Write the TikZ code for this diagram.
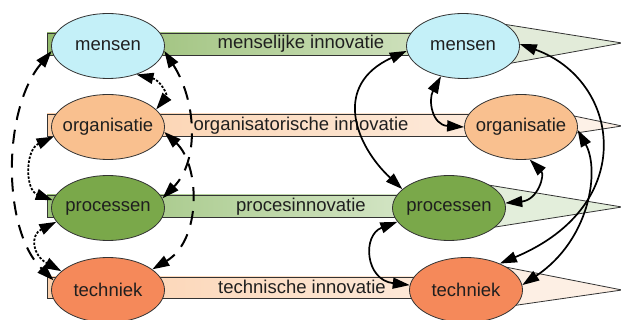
\documentclass[tikz,border=0pt]{standalone}
\usepackage{fontspec}
\setmainfont{Liberation Sans}
\usetikzlibrary{arrows.meta,shapes.geometric}
\definecolor{cmensen}{HTML}{C4F0F8}
\definecolor{corg}{HTML}{F9C08F}
\definecolor{cproc}{HTML}{7AA84A}
\definecolor{ctech}{HTML}{F5895A}
\definecolor{lineg}{HTML}{333333}
\definecolor{txt}{HTML}{1F1F1F}
\definecolor{wA}{HTML}{E2EBD9}
\definecolor{wB}{HTML}{FDF1E7}
\definecolor{wC}{HTML}{E3EEDB}
\definecolor{wD}{HTML}{FDEFE4}
\definecolor{bAl}{HTML}{92BA6C}
\definecolor{bAr}{HTML}{D5E5C6}
\definecolor{bBl}{HTML}{FBCFA9}
\definecolor{bBr}{HTML}{FDEDE0}
\definecolor{bCl}{HTML}{9AC178}
\definecolor{bCr}{HTML}{DAE9CE}
\definecolor{bDl}{HTML}{FBD1AE}
\definecolor{bDr}{HTML}{FDEBDD}
\tikzset{
  ell/.style={ellipse, draw=lineg, line width=0.8pt, minimum width=113pt, minimum height=65pt, inner sep=0pt},
  barbox/.style={draw=lineg, line width=0.8pt},
  wedgebox/.style={draw=lineg, line width=0.8pt},
  lbl/.style={text=txt, inner sep=0pt},
  dasharr/.style={<->, line width=2pt, dash pattern=on 14pt off 10pt},
  dotarr/.style={<->, line width=1.8pt, dash pattern=on 2.4pt off 1.6pt},
  solarr/.style={<->, line width=1.7pt},
  >={Triangle[length=17pt,width=11pt]}
}
\begin{document}
\begin{tikzpicture}[x=1pt,y=-1pt,font=\fontsize{18.5}{22}\selectfont]
\useasboundingbox (0,0) rectangle (621,320);
\fill[white] (0,0) rectangle (621,320);
% wedges
\draw[wedgebox, fill=wA] (490,22) -- (622,43) -- (490,67) -- cycle;
\draw[wedgebox, fill=wB] (550,111) -- (622,126) -- (550,137) -- cycle;
\draw[wedgebox, fill=wC] (470,182) -- (622,207) -- (470,231) -- cycle;
\draw[wedgebox, fill=wD] (490,264) -- (622,290) -- (490,309) -- cycle;
% bars
\draw[barbox, left color=bAl, right color=bAr] (47,33) rectangle (463,55);
\draw[barbox, left color=bBl, right color=bBr] (47,114) rectangle (521,136);
\draw[barbox, left color=bCl, right color=bCr] (47,195) rectangle (449,217);
\draw[barbox, left color=bDl, right color=bDr] (47,277) rectangle (466,298);
% bar labels
\node[lbl] (b1) at (301,44) {menselijke innovatie};
\node[lbl] (b2) at (301,126) {organisatorische innovatie};
\node[lbl] (b3) at (301,207) {procesinnovatie};
\node[lbl] (b4) at (302,287) {technische innovatie};
% ellipses left
\node[ell, fill=cmensen, label={[text=txt]center:mensen}] (mL) at (108,46) {};
\node[ell, fill=corg, label={[text=txt]center:organisatie}] (oL) at (108,127) {};
\node[ell, fill=cproc, label={[text=txt]center:processen}] (pL) at (108,208) {};
\node[ell, fill=ctech, label={[text=txt]center:techniek}] (tL) at (108,290) {};
% ellipses right
\node[ell, fill=cmensen, label={[text=txt]center:mensen}] (mR) at (463,46) {};
\node[ell, fill=corg, label={[text=txt]center:organisatie}] (oR) at (521,127) {};
\node[ell, fill=cproc, label={[text=txt]center:processen}] (pR) at (449,208) {};
\node[ell, fill=ctech, label={[text=txt]center:techniek}] (tR) at (466,290) {};
% left dashed arcs
\draw[dasharr] (mL.185) .. controls (2,110) and (2,230) .. (tL.170);
\draw[dasharr] (mL.-5) .. controls (196,100) and (200,160) .. (pL.10);
\draw[dasharr] (oL.-5) .. controls (200,165) and (202,240) .. (tL.25);
% left dotted arcs
\draw[dotarr] (mL.-45) .. controls (160,80) and (168,95) .. (oL.20);
\draw[dotarr] (oL.190) .. controls (25,150) and (25,190) .. (pL.172);
\draw[dotarr] (pL.195) .. controls (30,235) and (32,255) .. (tL.158);
% right solid arcs
\draw[solarr] (mR.234) .. controls (428,100) and (432,125) .. (oR.180);
\draw[solarr] (oR.-75) .. controls (545,175) and (538,200) .. (pR.5);
\draw[solarr] (mR.185) .. controls (332,85) and (355,145) .. (pR.158);
\draw[solarr] (pR.195) .. controls (362,235) and (365,280) .. (tR.175);
\draw[solarr] (mR.2) .. controls (620,80) and (640,205) .. (tR.38);
\draw[solarr] (oR.-3) .. controls (600,170) and (590,240) .. (tR.5);
\end{tikzpicture}
\end{document}
